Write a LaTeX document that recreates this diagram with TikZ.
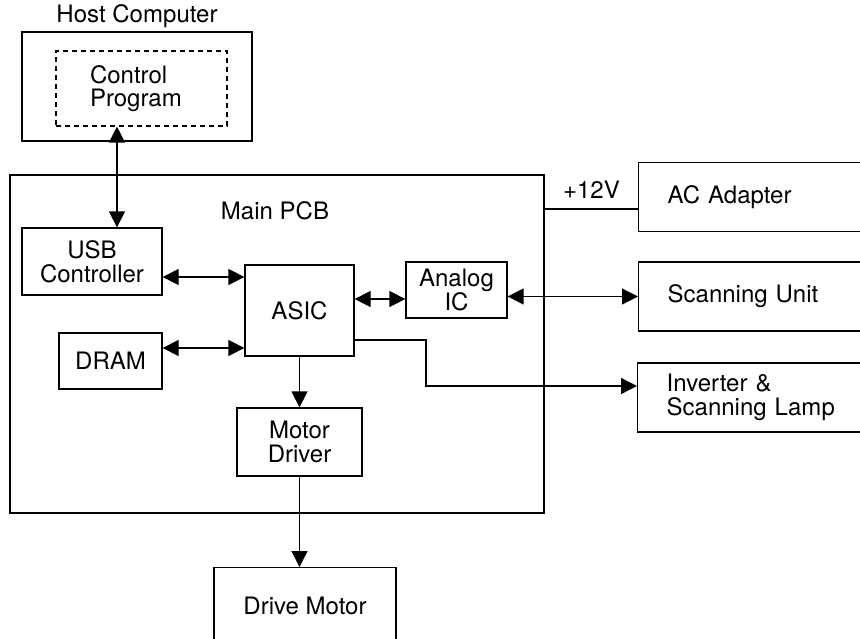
\documentclass[tikz,border=0pt]{standalone}
\usepackage{fontspec}
\setmainfont{TeX Gyre Heros}
\usetikzlibrary{positioning, arrows.meta}
\tikzset{
	x=1pt, y=-1pt, % one unit is one pixel of the drawing, y grows downwards
	every node/.style={font=\fontsize{24}{23.5}\selectfont, text=black},
	block/.style={draw, line width=1.3pt, align=center}, % the plain boxes
	board/.style={draw, line width=1.8pt}, % outline of the main pcb
	outside/.style={block, anchor=west, text width=200pt, inner xsep=29pt, align=left, minimum height=69pt}, % boxes that run off the right side
	link/.style={line width=1.3pt, {Triangle[length=16pt,width=16pt]}-{Triangle[length=16pt,width=16pt]}}, % two way connector
	feed/.style={line width=1.3pt, -{Triangle[length=16pt,width=16pt]}}, % one way connector
}

\begin{document}
\begin{tikzpicture}
	\useasboundingbox (0,0) rectangle (860,638);
	\clip (0,0) rectangle (860,638);
	% host side
	\node[block, minimum width=230pt, minimum height=109pt] (host) at (137,86.5) {};
	\node[above=0pt of host] (hostlabel) {Host Computer};
	\node[block, dash pattern=on 5pt off 4pt, line width=1.1pt, text width=103pt, align=left, minimum width=171pt, minimum height=75pt] (prog) at (141.5,88.5) {Control\\Program};
	% main board
	\node[board, minimum width=534pt, minimum height=338pt] (pcb) at (277,344) {};
	\node (pcblabel) at (275,211) {Main PCB};
	\node[block, minimum width=140pt, minimum height=67pt] (usb) at (92,261.5) {USB\\Controller};
	\node[block, minimum width=103pt, minimum height=56pt] (dram) at (110.5,361) {DRAM};
	\node[block, minimum width=109pt, minimum height=91pt] (asic) at (299.5,310.5) {ASIC};
	\node[block, minimum width=101pt, minimum height=56pt] (analog) at (456.5,290) {Analog\\IC};
	\node[block, minimum width=125pt, minimum height=68pt] (driver) at (299.5,442) {Motor\\Driver};
	% parts outside the board
	\node[outside] (adapter) at (638,197) {AC Adapter};
	\node[outside] (scan) at (638,296.5) {Scanning Unit};
	\node[outside] (lamp) at (637,397.5) {Inverter \&\\Scanning Lamp};
	\node[block, anchor=north, minimum width=182pt, minimum height=76pt] (motor) at (305,567) {Drive Motor};
	\coordinate (busx) at (117,0);
	\coordinate (bend) at (426,386);
	% connectors
	\draw[link] (busx |- prog.south) -- (busx |- usb.north);
	\draw[link] ([yshift=-15.5pt]usb.east) -- ([yshift=-15.5pt]usb.east -| asic.west);
	\draw[link] ([yshift=13pt]dram.east) -- ([yshift=13pt]dram.east -| asic.west);
	\draw[link] ([yshift=-9pt]analog.west -| asic.east) -- ([yshift=-9pt]analog.west);
	\draw[link] (analog.east |- scan.west) -- (scan.west);
	\draw[feed] ([yshift=-29.5pt]asic.east) -| (bend) -- (bend -| lamp.west);
	\draw[feed] (asic.south) -- (driver.north);
	\draw[feed] (driver.south) -- (driver.south |- motor.north);
	\draw[line width=1.3pt] ([yshift=-12pt]adapter.west -| pcb.east) -- ([yshift=-12pt]adapter.west) node[midway, above=7pt] (supply) {+12V};
\end{tikzpicture}
\end{document}
